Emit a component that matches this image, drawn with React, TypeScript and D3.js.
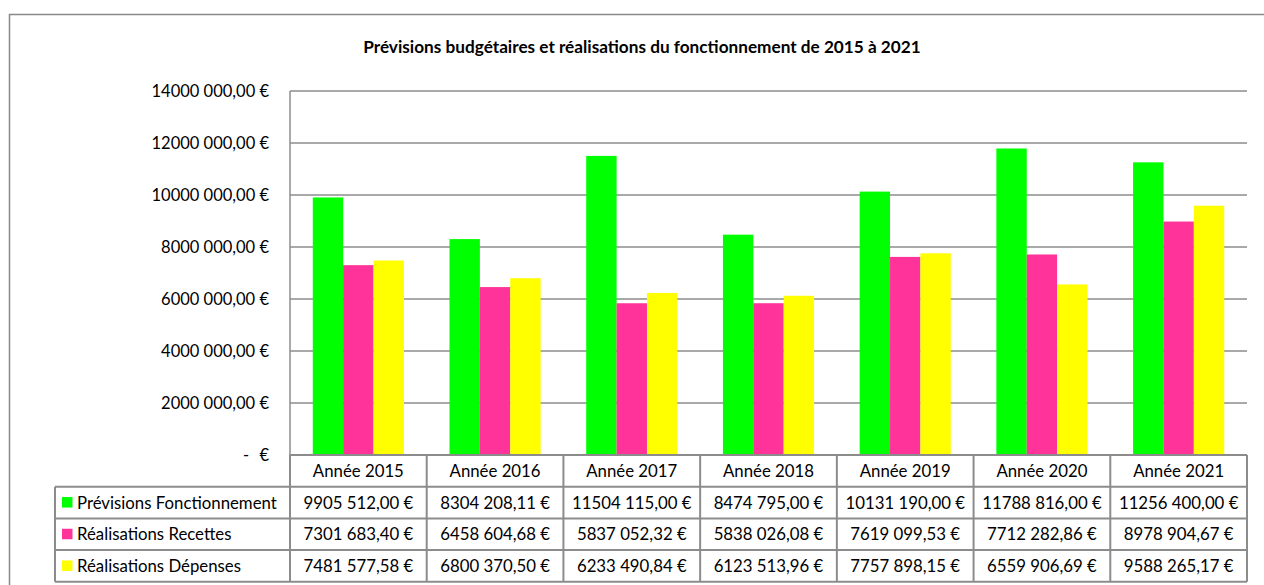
import React from "react";
import * as d3 from "d3";

const years = ["Année 2015", "Année 2016", "Année 2017", "Année 2018", "Année 2019", "Année 2020", "Année 2021"];
const seriesNames = ["Prévisions Fonctionnement", "Réalisations Recettes", "Réalisations Dépenses"];
const seriesColors = ["#00ff00", "#ff3399", "#ffff00"];
const previsions = [9905512.0, 8304208.11, 11504115.0, 8474795.0, 10131190.0, 11788816.0, 11256400.0];
const recettes = [7301683.4, 6458604.68, 5837052.32, 5838026.08, 7619099.53, 7712282.86, 8978904.67];
const depenses = [7481577.58, 6800370.5, 6233490.84, 6123513.96, 7757898.15, 6559906.69, 9588265.17];
const previsionsLabels = ["9905 512,00 €", "8304 208,11 €", "11504 115,00 €", "8474 795,00 €", "10131 190,00 €", "11788 816,00 €", "11256 400,00 €"];
const recettesLabels = ["7301 683,40 €", "6458 604,68 €", "5837 052,32 €", "5838 026,08 €", "7619 099,53 €", "7712 282,86 €", "8978 904,67 €"];
const depensesLabels = ["7481 577,58 €", "6800 370,50 €", "6233 490,84 €", "6123 513,96 €", "7757 898,15 €", "6559 906,69 €", "9588 265,17 €"];
const yTicks = [0, 2000000, 4000000, 6000000, 8000000, 10000000, 12000000, 14000000];
const yTickLabels = ["-   €", "2000 000,00 €", "4000 000,00 €", "6000 000,00 €", "8000 000,00 €", "10000 000,00 €", "12000 000,00 €", "14000 000,00 €"];
const title = "Prévisions budgétaires et réalisations du fonctionnement de 2015 à 2021";

const W = 1264;
const H = 585;
const FONT = "Lato, 'Open Sans', sans-serif";

export default function App() {
  const plotLeft = 290;
  const plotRight = 1247;
  const plotTop = 91;
  const plotBottom = 455;
  const rowH = 31.7;
  const tableLeft = 55;

  const series = [previsions, recettes, depenses];
  const labels = [previsionsLabels, recettesLabels, depensesLabels];

  const x = d3.scaleBand<string>().domain(years).range([plotLeft, plotRight]).paddingInner(0).paddingOuter(0);
  const y = d3.scaleLinear().domain([0, 14000000]).range([plotBottom, plotTop]);
  const bw = x.bandwidth();
  const barW = bw / (3 + 1.5);
  const inner = d3.scaleBand<number>().domain([0, 1, 2]).range([bw * 0.75 / 4.5, bw * 0.75 / 4.5 + barW * 3]);

  const grid = "#8c8c8c";
  const rowsY = [plotBottom, plotBottom + rowH, plotBottom + 2 * rowH, plotBottom + 3 * rowH, plotBottom + 4 * rowH];
  const fs = 16.8;

  return (
    <svg width={W} height={H} style={{ position: "absolute", left: 0, top: 0, background: "#fff" }} fontFamily={FONT}>
      <rect x={0} y={0} width={W} height={H} fill="#fff" />
      <rect x={9.5} y={14.5} width={W + 20} height={H + 20} fill="none" stroke="#898989" strokeWidth={1.5} />
      <text x={642} y={53} textAnchor="middle" fontSize={17.2} fontWeight="bold" fill="#000">{title}</text>

      {yTicks.map((t, i) => (
        <g key={t}>
          {t > 0 && <line x1={plotLeft} x2={plotRight} y1={y(t)} y2={y(t)} stroke={grid} strokeWidth={1.5} />}
          {t > 0 ? (
            <text x={269} y={y(t) + 6} textAnchor="end" fontSize={16.5} fill="#000">{yTickLabels[i]}</text>
          ) : (
            <g>
              <text x={243} y={y(t) + 6} fontSize={16.5} fill="#000">-</text>
              <text x={269} y={y(t) + 6} textAnchor="end" fontSize={16.5} fill="#000">€</text>
            </g>
          )}
        </g>
      ))}
      <line x1={plotLeft} x2={plotLeft} y1={plotTop} y2={plotBottom} stroke={grid} strokeWidth={1.5} />

      {years.map((yr, gi) =>
        series.map((s, si) => (
          <rect
            key={yr + si}
            x={(x(yr) as number) + (inner(si) as number)}
            y={y(s[gi])}
            width={inner.bandwidth()}
            height={plotBottom - y(s[gi])}
            fill={seriesColors[si]}
          />
        ))
      )}

      <g stroke={grid} strokeWidth={2} fill="none">
        <line x1={plotLeft} x2={plotRight} y1={rowsY[0]} y2={rowsY[0]} />
        {rowsY.slice(1).map((ry) => (
          <line key={ry} x1={tableLeft} x2={plotRight} y1={ry} y2={ry} />
        ))}
        <line x1={tableLeft} x2={tableLeft} y1={rowsY[1]} y2={rowsY[4]} />
        {years.map((yr) => (
          <line key={yr} x1={x(yr) as number} x2={x(yr) as number} y1={rowsY[0]} y2={rowsY[4]} />
        ))}
        <line x1={plotRight} x2={plotRight} y1={rowsY[0]} y2={rowsY[4]} />
      </g>

      {years.map((yr) => (
        <text key={yr} x={(x(yr) as number) + bw / 2} y={rowsY[0] + rowH / 2 + 6} textAnchor="middle" fontSize={fs} fill="#000">{yr}</text>
      ))}

      {seriesNames.map((n, si) => (
        <g key={n}>
          <rect x={62} y={rowsY[si + 1] + rowH / 2 - 5.5} width={10.5} height={10.5} fill={seriesColors[si]} />
          <text x={77} y={rowsY[si + 1] + rowH / 2 + 6} fontSize={fs} fill="#000">{n}</text>
          {labels[si].map((l, gi) => (
            <text key={gi} x={(x(years[gi]) as number) + bw / 2} y={rowsY[si + 1] + rowH / 2 + 6} textAnchor="middle" fontSize={fs} fill="#000">{l}</text>
          ))}
        </g>
      ))}
    </svg>
  );
}
